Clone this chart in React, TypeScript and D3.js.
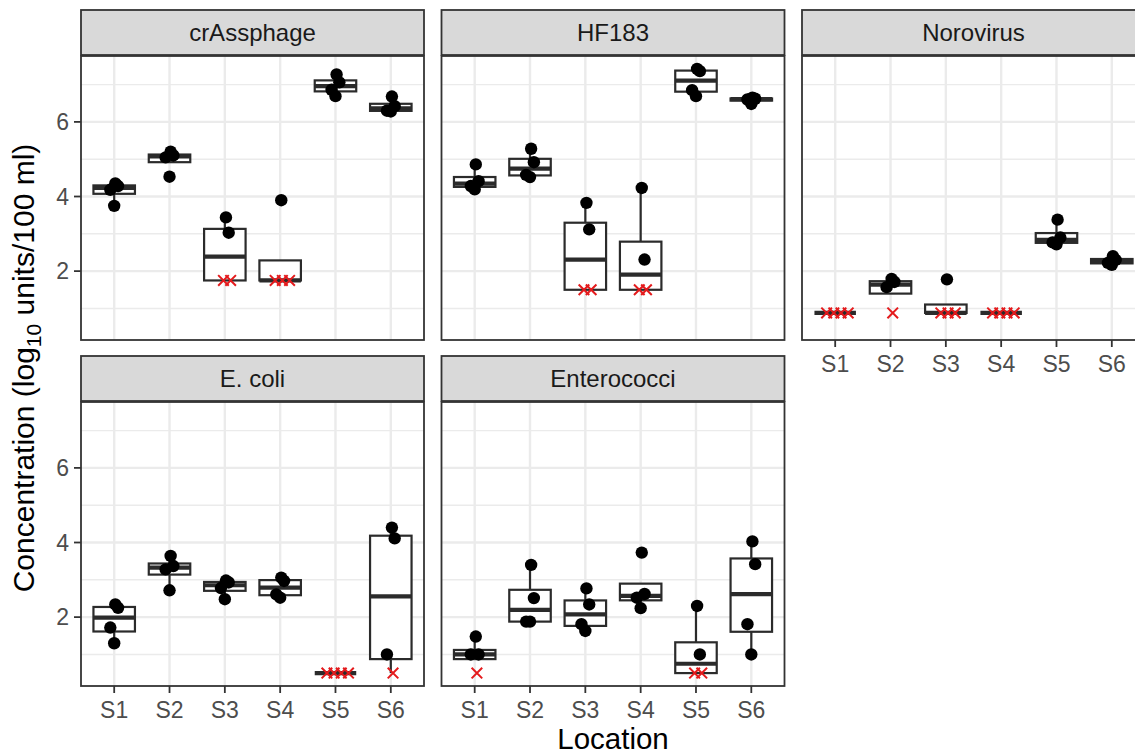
import React from "react";
import * as d3 from "d3";

// ---------- data ----------
const sites = ["S1", "S2", "S3", "S4", "S5", "S6"];
const targets = ["crAssphage", "HF183", "Norovirus", "E. coli", "Enterococci"];
// limit of detection (log10) per target; null values below = non-detects plotted at LOD
const lods = [1.75, 1.5, 0.88, 0.5, 0.5];

const crAssphage: (number | null)[][] = [
  [3.75, 4.18, 4.28, 4.35],
  [4.53, 5.05, 5.1, 5.2],
  [null, null, 3.03, 3.44],
  [null, null, null, 3.9],
  [6.69, 6.86, 7.06, 7.27],
  [6.28, 6.3, 6.42, 6.68],
];
const hf183: (number | null)[][] = [
  [4.19, 4.28, 4.41, 4.86],
  [4.52, 4.58, 4.92, 5.28],
  [null, null, 3.12, 3.83],
  [null, null, 2.31, 4.23],
  [6.69, 6.85, 7.36, 7.42],
  [6.48, 6.6, 6.62, 6.65],
];
const norovirus: (number | null)[][] = [
  [null, null, null, null],
  [null, 1.57, 1.71, 1.79],
  [null, null, null, 1.78],
  [null, null, null, null],
  [2.72, 2.77, 2.9, 3.38],
  [2.17, 2.22, 2.3, 2.4],
];
const ecoli: (number | null)[][] = [
  [1.3, 1.72, 2.25, 2.34],
  [2.72, 3.28, 3.37, 3.64],
  [2.48, 2.78, 2.93, 2.98],
  [2.52, 2.61, 2.97, 3.06],
  [null, null, null, null],
  [null, 1.0, 4.11, 4.4],
];
const enterococci: (number | null)[][] = [
  [null, 1.0, 1.0, 1.48],
  [1.88, 1.88, 2.51, 3.4],
  [1.63, 1.81, 2.34, 2.77],
  [2.24, 2.52, 2.62, 3.73],
  [null, null, 1.0, 2.3],
  [1.0, 1.81, 3.42, 4.03],
];
const seriesByTarget = [crAssphage, hf183, norovirus, ecoli, enterococci];

const yMajor = [2, 4, 6];
const yMinor = [1, 3, 5, 7];
const yTickLabels = ["2", "4", "6"];

// ---------- layout ----------
const W = 1135;
const H = 754;
const panelW = 343;
const panelH = 284;
const stripH = 45;
const colX = [81, 441.5, 802];
const rowStripTop = [10, 356];
const FONT = "'Liberation Sans', Arial, Helvetica, sans-serif";

const allVals: number[] = [];
seriesByTarget.forEach((s, ti) =>
  s.forEach((arr) => arr.forEach((v) => allVals.push(v == null ? lods[ti] : v)))
);
const [vMin, vMax] = d3.extent(allVals) as [number, number];
const pad = (vMax - vMin) * 0.05;

const yScale = d3.scaleLinear().domain([vMin - pad, vMax + pad]).range([panelH, 0]);
const xScale = d3.scalePoint<string>().domain(sites).range([0, panelW]).padding(0.6);
const step = xScale.step();

function boxStats(vals: number[]) {
  const s = vals.slice().sort(d3.ascending);
  const q1 = d3.quantile(s, 0.25)!;
  const med = d3.quantile(s, 0.5)!;
  const q3 = d3.quantile(s, 0.75)!;
  const iqr = q3 - q1;
  const lo = d3.min(s.filter((v) => v >= q1 - 1.5 * iqr))!;
  const hi = d3.max(s.filter((v) => v <= q3 + 1.5 * iqr))!;
  return { q1, med, q3, lo, hi };
}

const jit = [0.0, -0.07, 0.07, 0.02];
const INK = "#2B2B2B";

function Panel({ ti, col, row, showX, showY }: { ti: number; col: number; row: number; showX: boolean; showY: boolean }) {
  const x0 = colX[col];
  const sTop = rowStripTop[row];
  const pTop = sTop + stripH + 1;
  const data = seriesByTarget[ti];
  const lod = lods[ti];
  const boxW = step * 0.75;
  return (
    <g>
      {/* strip */}
      <rect x={x0} y={sTop} width={panelW} height={stripH} fill="#D9D9D9" stroke="#333333" strokeWidth={1.8} />
      <text x={x0 + panelW / 2} y={sTop + stripH / 2 + 8.5} textAnchor="middle" fontSize={24} fill="#1A1A1A" fontFamily={FONT}>
        {targets[ti]}
      </text>
      <g transform={`translate(${x0},${pTop})`}>
        <rect x={0} y={0} width={panelW} height={panelH} fill="white" />
        {yMinor.map((v) => (
          <line key={"mn" + v} x1={0} x2={panelW} y1={yScale(v)} y2={yScale(v)} stroke="#EBEBEB" strokeWidth={1.4} />
        ))}
        {yMajor.map((v) => (
          <line key={"mj" + v} x1={0} x2={panelW} y1={yScale(v)} y2={yScale(v)} stroke="#EBEBEB" strokeWidth={2.4} />
        ))}
        {sites.map((s) => (
          <line key={"gx" + s} x1={xScale(s)} x2={xScale(s)} y1={0} y2={panelH} stroke="#EBEBEB" strokeWidth={2.4} />
        ))}
        {/* boxplots */}
        {data.map((arr, si) => {
          const vals = arr.map((v) => (v == null ? lod : v));
          const st = boxStats(vals);
          const cx = xScale(sites[si])!;
          return (
            <g key={"b" + si}>
              <line x1={cx} x2={cx} y1={yScale(st.q3)} y2={yScale(st.hi)} stroke={INK} strokeWidth={2.2} />
              <line x1={cx} x2={cx} y1={yScale(st.q1)} y2={yScale(st.lo)} stroke={INK} strokeWidth={2.2} />
              <rect x={cx - boxW / 2} y={yScale(st.q3)} width={boxW} height={Math.max(0, yScale(st.q1) - yScale(st.q3))} fill="white" stroke={INK} strokeWidth={2.2} />
              <line x1={cx - boxW / 2} x2={cx + boxW / 2} y1={yScale(st.med)} y2={yScale(st.med)} stroke={INK} strokeWidth={4.2} />
            </g>
          );
        })}
        {/* points */}
        {data.map((arr, si) => {
          const cx = xScale(sites[si])!;
          const nds = arr.filter((v) => v == null).length;
          let ndi = 0;
          return (
            <g key={"p" + si}>
              {arr.map((v, i) => {
                if (v == null) {
                  const off = (ndi - (nds - 1) / 2) * step * 0.13 + step * 0.04;
                  ndi++;
                  const px = cx + off;
                  const py = yScale(lod);
                  const r = 5.3;
                  return (
                    <path key={i} d={`M${px - r},${py - r}L${px + r},${py + r}M${px - r},${py + r}L${px + r},${py - r}`} stroke="#E41A1C" strokeWidth={2} fill="none" />
                  );
                }
                return <circle key={i} cx={cx + jit[i] * step} cy={yScale(v)} r={6.2} fill="black" />;
              })}
            </g>
          );
        })}
        <rect x={0} y={0} width={panelW} height={panelH} fill="none" stroke="#333333" strokeWidth={1.8} />
        {showY &&
          yMajor.map((v, i) => (
            <g key={"yt" + v}>
              <line x1={-7} x2={0} y1={yScale(v)} y2={yScale(v)} stroke="#333333" strokeWidth={1.8} />
              <text x={-12} y={yScale(v)} dy="0.36em" textAnchor="end" fontSize={23} fill="#4D4D4D" fontFamily={FONT}>
                {yTickLabels[i]}
              </text>
            </g>
          ))}
        {showX &&
          sites.map((s) => (
            <g key={"xt" + s}>
              <line x1={xScale(s)} x2={xScale(s)} y1={panelH} y2={panelH + 7} stroke="#333333" strokeWidth={1.8} />
              <text x={xScale(s)} y={panelH + 32} textAnchor="middle" fontSize={23} fill="#4D4D4D" fontFamily={FONT}>
                {s}
              </text>
            </g>
          ))}
      </g>
    </g>
  );
}

export default function App() {
  const plotLeft = colX[0];
  const plotRight = colX[2] + panelW;
  return (
    <svg width={W} height={H} style={{ position: "absolute", left: 0, top: 0, background: "white" }} fontFamily={FONT}>
      <rect x={0} y={0} width={W} height={H} fill="white" />
      <Panel ti={0} col={0} row={0} showX={false} showY={true} />
      <Panel ti={1} col={1} row={0} showX={false} showY={false} />
      <Panel ti={2} col={2} row={0} showX={true} showY={false} />
      <Panel ti={3} col={0} row={1} showX={true} showY={true} />
      <Panel ti={4} col={1} row={1} showX={true} showY={false} />
      <text x={(plotLeft + plotRight) / 2} y={749} textAnchor="middle" fontSize={29.5} fill="black">
        Location
      </text>
      <text transform={`translate(34,368) rotate(-90)`} textAnchor="middle" fontSize={30} fill="black">
        Concentration (log
        <tspan fontSize={21} dy={7}>10</tspan>
        <tspan dy={-7}> units/100 ml)</tspan>
      </text>
    </svg>
  );
}
